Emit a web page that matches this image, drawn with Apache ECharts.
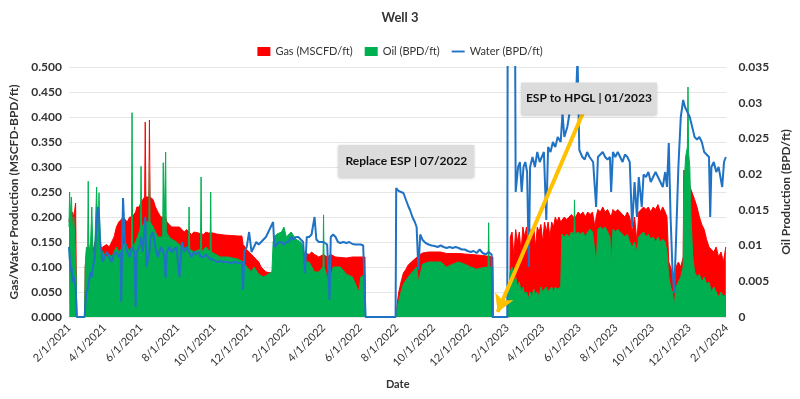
<!DOCTYPE html>
<html>
<head>
<meta charset="utf-8">
<script src="https://cdn.jsdelivr.net/npm/echarts@6/dist/echarts.min.js"></script>
<style>
    html, body { margin: 0; padding: 0; background: #fff; }
    #main { width: 800px; height: 399px; }
</style>
</head>
<body>
<div id="main"></div>
<script>
// Gas (MSCFD/ft), left axis
const gasData = [
    ['2021-02-01',0.19],['2021-02-02',0.2],['2021-02-04',0.19],['2021-02-05',0.2],['2021-02-07',0.21],['2021-02-09',0.2],
    ['2021-02-12',0.228],['2021-02-13',0.1],['2021-02-14',0],['2021-02-27',0],['2021-02-28',0.1],['2021-03-02',0.13],
    ['2021-03-05',0.14],['2021-03-06',0.12],['2021-03-09',0.14],['2021-03-11',0.16],['2021-03-13',0.13],['2021-03-16',0.15],
    ['2021-03-19',0.15],['2021-03-23',0.14],['2021-03-25',0.13],['2021-03-29',0.14],['2021-04-01',0.14],['2021-04-05',0.145],
    ['2021-04-09',0.14],['2021-04-13',0.15],['2021-04-17',0.16],['2021-04-21',0.18],['2021-04-25',0.19],['2021-04-29',0.195],
    ['2021-05-02',0.2],['2021-05-05',0.2],['2021-05-09',0.19],['2021-05-13',0.2],['2021-05-17',0.2],['2021-05-23',0.21],
    ['2021-05-25',0.22],['2021-05-29',0.22],['2021-06-01',0.23],['2021-06-04',0.235],['2021-06-07',0.24],['2021-06-08',0.39],
    ['2021-06-09',0.24],['2021-06-14',0.24],['2021-06-15',0.394],['2021-06-16',0.24],['2021-06-21',0.235],['2021-06-25',0.22],
    ['2021-06-29',0.21],['2021-07-04',0.2],['2021-07-08',0.2],['2021-07-12',0.2],['2021-07-14',0.19],['2021-07-18',0.185],
    ['2021-07-22',0.18],['2021-07-30',0.18],['2021-08-04',0.18],['2021-08-08',0.175],['2021-08-12',0.17],['2021-08-16',0.175],
    ['2021-08-20',0.17],['2021-08-24',0.165],['2021-08-28',0.17],['2021-09-05',0.168],['2021-09-13',0.165],['2021-09-17',0.17],
    ['2021-09-21',0.168],['2021-09-29',0.168],['2021-10-05',0.166],['2021-10-17',0.164],['2021-10-29',0.163],['2021-11-10',0.162],
    ['2021-11-16',0.162],['2021-11-18',0.145],['2021-11-24',0.135],['2021-11-28',0.13],['2021-12-02',0.125],['2021-12-06',0.12],
    ['2021-12-10',0.115],['2021-12-14',0.11],['2021-12-18',0.1],['2021-12-22',0.095],['2021-12-26',0.09],['2022-01-05',0.088],
    ['2022-01-07',0.1],['2022-01-09',0.12],['2022-01-13',0.13],['2022-02-22',0.13],['2022-03-01',0.128],['2022-03-08',0.125],
    ['2022-03-12',0.13],['2022-03-17',0.125],['2022-03-24',0.12],['2022-04-01',0.125],['2022-04-07',0.12],['2022-04-13',0.125],
    ['2022-04-21',0.12],['2022-05-09',0.118],['2022-05-19',0.12],['2022-06-09',0.12],['2022-06-10',0],['2022-07-30',0],
    ['2022-07-31',0.01],['2022-08-04',0.048],['2022-08-08',0.07],['2022-08-12',0.088],['2022-08-16',0.095],['2022-08-20',0.104],
    ['2022-08-23',0.108],['2022-08-27',0.112],['2022-08-31',0.116],['2022-09-03',0.118],['2022-09-09',0.125],['2022-09-13',0.128],
    ['2022-09-23',0.13],['2022-10-13',0.13],['2022-10-23',0.127],['2022-11-12',0.127],['2022-11-22',0.126],['2022-12-02',0.125],
    ['2022-12-22',0.123],['2023-01-08',0.12],['2023-01-09',0],['2023-02-05',0],['2023-02-06',0.16],['2023-02-09',0.17],
    ['2023-02-12',0.12],['2023-02-15',0.175],['2023-02-18',0.15],['2023-02-21',0.17],['2023-02-24',0.13],['2023-02-27',0.18],
    ['2023-03-02',0.16],['2023-03-05',0.18],['2023-03-08',0.12],['2023-03-11',0.175],['2023-03-14',0.15],['2023-03-17',0.18],
    ['2023-03-20',0.14],['2023-03-23',0.18],['2023-03-26',0.17],['2023-03-29',0.185],['2023-04-01',0.15],['2023-04-04',0.19],
    ['2023-04-07',0.17],['2023-04-10',0.19],['2023-04-13',0.16],['2023-04-16',0.19],['2023-04-19',0.18],['2023-04-22',0.2],
    ['2023-04-25',0.19],['2023-04-28',0.2],['2023-05-01',0.19],['2023-05-07',0.2],['2023-05-11',0.195],['2023-05-15',0.2],
    ['2023-05-19',0.205],['2023-05-22',0.2],['2023-05-26',0.2],['2023-05-30',0.21],['2023-06-03',0.205],['2023-06-07',0.21],
    ['2023-06-11',0.2],['2023-06-15',0.21],['2023-06-19',0.205],['2023-06-23',0.21],['2023-06-27',0.18],['2023-06-29',0.2],
    ['2023-07-02',0.215],['2023-07-06',0.21],['2023-07-10',0.22],['2023-07-14',0.21],['2023-07-18',0.215],['2023-07-22',0.205],
    ['2023-07-24',0.2],['2023-07-27',0.215],['2023-07-31',0.21],['2023-08-04',0.215],['2023-08-08',0.21],['2023-08-12',0.205],
    ['2023-08-16',0.2],['2023-08-20',0.21],['2023-08-24',0.2],['2023-08-28',0.17],['2023-09-01',0.2],['2023-09-05',0.15],
    ['2023-09-08',0.21],['2023-09-12',0.215],['2023-09-16',0.22],['2023-09-20',0.215],['2023-09-24',0.22],['2023-09-28',0.21],
    ['2023-10-02',0.22],['2023-10-06',0.215],['2023-10-10',0.225],['2023-10-14',0.21],['2023-10-18',0.22],['2023-10-22',0.21],
    ['2023-10-25',0.2],['2023-10-28',0.11],['2023-10-31',0.1],['2023-11-03',0.09],['2023-11-06',0.08],['2023-11-09',0.1],
    ['2023-11-13',0.11],['2023-11-17',0.1],['2023-11-21',0.12],['2023-11-22',0.294],['2023-11-25',0.285],['2023-11-29',0.27],
    ['2023-12-01',0.265],['2023-12-04',0.255],['2023-12-07',0.245],['2023-12-10',0.235],['2023-12-14',0.22],['2023-12-18',0.2],
    ['2023-12-22',0.185],['2023-12-26',0.175],['2023-12-30',0.155],['2024-01-03',0.14],['2024-01-07',0.135],['2024-01-11',0.13],
    ['2024-01-15',0.14],['2024-01-19',0.12],['2024-01-23',0.13],['2024-01-27',0.11],['2024-01-31',0.14]
]

// Oil (BPD/ft), right axis
const oilData = [
    ['2021-02-01',0.0126],['2021-02-02',0.0175],['2021-02-04',0.0133],['2021-02-05',0.0168],['2021-02-07',0.0119],['2021-02-09',0.014],
    ['2021-02-12',0.0084],['2021-02-13',0.0056],['2021-02-14',0],['2021-02-27',0],['2021-02-28',0.007],['2021-03-02',0.0098],
    ['2021-03-04',0.0091],['2021-03-05',0.019],['2021-03-06',0.0091],['2021-03-09',0.0105],['2021-03-11',0.0154],['2021-03-13',0.0084],
    ['2021-03-16',0.0098],['2021-03-19',0.0182],['2021-03-21',0.0112],['2021-03-23',0.0174],['2021-03-25',0.0098],['2021-03-29',0.0091],
    ['2021-04-05',0.0084],['2021-04-09',0.0088],['2021-04-13',0.0084],['2021-04-17',0.0091],['2021-04-21',0.0098],['2021-04-25',0.0091],
    ['2021-04-29',0.0095],['2021-05-05',0.0105],['2021-05-09',0.0098],['2021-05-13',0.0091],['2021-05-16',0.0098],['2021-05-17',0.0286],
    ['2021-05-18',0.0098],['2021-05-23',0.0105],['2021-05-29',0.0119],['2021-05-31',0.0126],['2021-06-01',0.0211],['2021-06-02',0.0126],
    ['2021-06-08',0.0133],['2021-06-14',0.0133],['2021-06-15',0.022],['2021-06-16',0.0133],['2021-06-21',0.0126],['2021-06-25',0.0119],
    ['2021-06-29',0.0112],['2021-07-07',0.0112],['2021-07-08',0.0216],['2021-07-09',0.0112],['2021-07-11',0.0112],['2021-07-12',0.0231],
    ['2021-07-13',0.0119],['2021-07-18',0.0112],['2021-07-22',0.0109],['2021-07-30',0.0105],['2021-08-08',0.0098],['2021-08-19',0.0095],
    ['2021-08-20',0.0154],['2021-08-21',0.0095],['2021-08-28',0.0091],['2021-09-08',0.0095],['2021-09-09',0.0196],['2021-09-10',0.0091],
    ['2021-09-17',0.0098],['2021-09-24',0.0091],['2021-09-25',0.0175],['2021-09-26',0.0091],['2021-10-11',0.0084],['2021-10-23',0.0084],
    ['2021-11-10',0.0081],['2021-11-18',0.0077],['2021-11-24',0.007],['2021-12-02',0.0063],['2021-12-06',0.007],['2021-12-14',0.006],
    ['2021-12-22',0.0056],['2022-01-05',0.0063],['2022-01-07',0.0105],['2022-01-09',0.0112],['2022-01-13',0.0116],['2022-01-21',0.0119],
    ['2022-01-25',0.0126],['2022-01-29',0.0112],['2022-02-06',0.0119],['2022-02-14',0.0109],['2022-02-22',0.0105],['2022-02-26',0.0098],
    ['2022-03-01',0.0077],['2022-03-08',0.0077],['2022-03-17',0.0063],['2022-03-24',0.0063],['2022-03-31',0.007],['2022-04-01',0.0143],
    ['2022-04-02',0.007],['2022-04-07',0.0056],['2022-04-11',0.0049],['2022-04-17',0.007],['2022-04-29',0.007],['2022-05-09',0.006],
    ['2022-05-19',0.0056],['2022-05-30',0.0035],['2022-06-02',0.0056],['2022-06-09',0.006],['2022-06-10',0],['2022-07-30',0],
    ['2022-07-31',0.0007],['2022-08-04',0.0021],['2022-08-08',0.0035],['2022-08-12',0.0046],['2022-08-20',0.0056],['2022-08-27',0.0063],
    ['2022-09-03',0.007],['2022-09-06',0.0049],['2022-09-13',0.0074],['2022-09-23',0.0077],['2022-10-13',0.0077],['2022-10-23',0.007],
    ['2022-11-02',0.0074],['2022-11-12',0.0077],['2022-11-22',0.0074],['2022-12-02',0.007],['2022-12-12',0.0067],['2022-12-22',0.0069],
    ['2022-12-31',0.007],['2023-01-01',0.0132],['2023-01-02',0.007],['2023-01-08',0.007],['2023-01-09',0],['2023-02-01',0],
    ['2023-02-03',0.0035],['2023-02-06',0.0063],['2023-02-09',0.007],['2023-02-12',0.0049],['2023-02-15',0.0056],['2023-02-18',0.0042],
    ['2023-02-21',0.0049],['2023-02-24',0.0035],['2023-02-27',0.0042],['2023-03-02',0.0032],['2023-03-05',0.0035],['2023-03-08',0.0025],
    ['2023-03-11',0.0035],['2023-03-14',0.0028],['2023-03-17',0.0039],['2023-03-20',0.0032],['2023-03-23',0.0035],['2023-03-26',0.0028],
    ['2023-03-29',0.0042],['2023-04-01',0.0035],['2023-04-04',0.0039],['2023-04-07',0.0042],['2023-04-10',0.0035],['2023-04-13',0.0039],
    ['2023-04-16',0.0042],['2023-04-19',0.0035],['2023-04-22',0.0042],['2023-04-25',0.0039],['2023-05-01',0.0042],['2023-05-03',0.0116],
    ['2023-05-07',0.0112],['2023-05-11',0.0116],['2023-05-15',0.0112],['2023-05-19',0.0119],['2023-05-23',0.0116],['2023-05-24',0.0164],
    ['2023-05-25',0.0116],['2023-05-30',0.0119],['2023-06-03',0.0116],['2023-06-07',0.0119],['2023-06-11',0.0112],['2023-06-15',0.0119],
    ['2023-06-19',0.0123],['2023-06-23',0.0119],['2023-06-27',0.0091],['2023-06-29',0.007],['2023-07-02',0.0123],['2023-07-06',0.0126],
    ['2023-07-10',0.0123],['2023-07-14',0.0126],['2023-07-18',0.0119],['2023-07-22',0.0112],['2023-07-24',0.007],['2023-07-27',0.0123],
    ['2023-07-31',0.0119],['2023-08-04',0.0123],['2023-08-08',0.0119],['2023-08-12',0.0116],['2023-08-16',0.0112],['2023-08-20',0.0116],
    ['2023-08-24',0.0105],['2023-08-28',0.0098],['2023-09-01',0.0105],['2023-09-05',0.0091],['2023-09-08',0.0112],['2023-09-12',0.0116],
    ['2023-09-16',0.0119],['2023-09-20',0.0112],['2023-09-24',0.0116],['2023-09-28',0.0109],['2023-10-02',0.0112],['2023-10-06',0.0105],
    ['2023-10-10',0.0112],['2023-10-14',0.0105],['2023-10-18',0.0109],['2023-10-22',0.0105],['2023-10-25',0.0091],['2023-10-28',0.0056],
    ['2023-10-31',0.0042],['2023-11-03',0.0035],['2023-11-06',0.0014],['2023-11-09',0.0042],['2023-11-13',0.0049],['2023-11-17',0.0056],
    ['2023-11-21',0.007],['2023-11-22',0.0175],['2023-11-25',0.0224],['2023-11-28',0.0238],['2023-11-29',0.0322],['2023-11-30',0.0231],
    ['2023-12-02',0.021],['2023-12-04',0.014],['2023-12-07',0.0084],['2023-12-10',0.0063],['2023-12-14',0.0056],['2023-12-18',0.006],
    ['2023-12-22',0.0049],['2023-12-26',0.0056],['2023-12-30',0.0046],['2024-01-03',0.0049],['2024-01-07',0.0035],['2024-01-11',0.0042],
    ['2024-01-15',0.0035],['2024-01-19',0.0028],['2024-01-23',0.0035],['2024-01-27',0.0028],['2024-01-31',0.0032]
]

// Water (BPD/ft), left axis
const waterData = [
    ['2021-02-01',0.14],['2021-02-02',0.12],['2021-02-04',0.09],['2021-02-05',0.1],['2021-02-07',0.07],['2021-02-09',0.08],
    ['2021-02-12',0.06],['2021-02-13',0.03],['2021-02-14',0],['2021-02-27',0],['2021-02-28',0.02],['2021-03-02',0.05],
    ['2021-03-05',0.06],['2021-03-06',0.07],['2021-03-09',0.09],['2021-03-11',0.08],['2021-03-13',0.1],['2021-03-16',0.12],
    ['2021-03-19',0.19],['2021-03-21',0.22],['2021-03-23',0.2],['2021-03-25',0.15],['2021-03-29',0.11],['2021-04-01',0.12],
    ['2021-04-05',0.13],['2021-04-09',0.12],['2021-04-13',0.11],['2021-04-17',0.125],['2021-04-21',0.13],['2021-04-25',0.12],
    ['2021-04-28',0.13],['2021-04-29',0.03],['2021-05-02',0.238],['2021-05-05',0.15],['2021-05-09',0.13],['2021-05-13',0.12],
    ['2021-05-17',0.14],['2021-05-21',0.13],['2021-05-23',0.02],['2021-05-25',0.13],['2021-05-29',0.14],['2021-06-01',0.16],
    ['2021-06-04',0.13],['2021-06-08',0.2],['2021-06-10',0.1],['2021-06-15',0.13],['2021-06-17',0.16],['2021-06-21',0.17],
    ['2021-06-25',0.14],['2021-06-29',0.12],['2021-07-04',0.14],['2021-07-08',0.13],['2021-07-10',0.12],['2021-07-12',0.078],
    ['2021-07-14',0.13],['2021-07-18',0.14],['2021-07-22',0.13],['2021-07-30',0.14],['2021-08-04',0.08],['2021-08-08',0.15],
    ['2021-08-12',0.13],['2021-08-16',0.14],['2021-08-20',0.13],['2021-08-24',0.12],['2021-08-28',0.13],['2021-09-01',0.125],
    ['2021-09-05',0.13],['2021-09-09',0.12],['2021-09-13',0.12],['2021-09-17',0.125],['2021-09-21',0.12],['2021-09-25',0.115],
    ['2021-09-29',0.115],['2021-10-05',0.11],['2021-10-11',0.112],['2021-10-17',0.11],['2021-10-23',0.11],['2021-10-29',0.108],
    ['2021-11-04',0.11],['2021-11-10',0.108],['2021-11-16',0.11],['2021-11-18',0.054],['2021-11-20',0.13],['2021-11-24',0.14],
    ['2021-11-28',0.17],['2021-12-02',0.13],['2021-12-06',0.14],['2021-12-10',0.15],['2021-12-14',0.145],['2021-12-18',0.15],
    ['2021-12-22',0.155],['2021-12-26',0.16],['2021-12-30',0.17],['2022-01-07',0.19],['2022-01-09',0.14],['2022-01-13',0.145],
    ['2022-01-17',0.15],['2022-01-21',0.15],['2022-01-25',0.145],['2022-01-29',0.15],['2022-02-02',0.15],['2022-02-06',0.16],
    ['2022-02-10',0.155],['2022-02-14',0.16],['2022-02-18',0.16],['2022-02-22',0.155],['2022-02-26',0.15],['2022-03-01',0.088],
    ['2022-03-04',0.16],['2022-03-08',0.16],['2022-03-12',0.165],['2022-03-17',0.2],['2022-03-20',0.155],['2022-03-24',0.15],
    ['2022-04-01',0.15],['2022-04-07',0.145],['2022-04-11',0.034],['2022-04-13',0.16],['2022-04-17',0.165],['2022-04-21',0.16],
    ['2022-04-25',0.15],['2022-04-29',0.148],['2022-05-04',0.15],['2022-05-09',0.148],['2022-05-14',0.15],['2022-05-19',0.146],
    ['2022-05-24',0.145],['2022-05-29',0.145],['2022-06-02',0.145],['2022-06-06',0.143],['2022-06-09',0.143],['2022-06-10',0],
    ['2022-07-30',0],['2022-07-31',0.258],['2022-08-04',0.252],['2022-08-08',0.25],['2022-08-12',0.248],['2022-08-16',0.235],
    ['2022-08-20',0.222],['2022-08-23',0.214],['2022-08-27',0.2],['2022-08-31',0.19],['2022-09-03',0.18],['2022-09-06',0.094],
    ['2022-09-09',0.165],['2022-09-13',0.154],['2022-09-18',0.148],['2022-09-23',0.145],['2022-09-28',0.143],['2022-10-03',0.142],
    ['2022-10-08',0.14],['2022-10-13',0.143],['2022-10-18',0.14],['2022-10-23',0.138],['2022-10-28',0.14],['2022-11-02',0.138],
    ['2022-11-07',0.14],['2022-11-12',0.138],['2022-11-17',0.135],['2022-11-22',0.135],['2022-11-27',0.132],['2022-12-02',0.13],
    ['2022-12-07',0.132],['2022-12-12',0.128],['2022-12-17',0.135],['2022-12-22',0.128],['2022-12-27',0.125],['2023-01-01',0.13],
    ['2023-01-06',0.125],['2023-01-07',0],['2023-02-01',0],['2023-02-02',0.9],['2023-02-13',0.9],['2023-02-15',0.25],
    ['2023-02-19',0.3],['2023-02-22',0.31],['2023-02-25',0.25],['2023-02-28',0.3],['2023-03-03',0.31],['2023-03-06',0.29],
    ['2023-03-09',0.1],['2023-03-11',0.3],['2023-03-15',0.32],['2023-03-19',0.3],['2023-03-23',0.33],['2023-03-27',0.31],
    ['2023-04-03',0.33],['2023-04-07',0.194],['2023-04-10',0.34],['2023-04-14',0.33],['2023-04-18',0.35],['2023-04-22',0.34],
    ['2023-04-26',0.36],['2023-05-01',0.35],['2023-05-04',0.408],['2023-05-07',0.36],['2023-05-12',0.38],['2023-05-16',0.41],
    ['2023-05-22',0.43],['2023-05-26',0.42],['2023-05-29',0.52],['2023-06-01',0.334],['2023-06-06',0.32],['2023-06-10',0.315],
    ['2023-06-14',0.33],['2023-06-18',0.32],['2023-06-24',0.31],['2023-06-29',0.22],['2023-07-02',0.32],['2023-07-06',0.325],
    ['2023-07-10',0.33],['2023-07-14',0.32],['2023-07-18',0.315],['2023-07-22',0.32],['2023-07-24',0.25],['2023-07-27',0.33],
    ['2023-07-31',0.32],['2023-08-04',0.33],['2023-08-08',0.32],['2023-08-12',0.31],['2023-08-16',0.325],['2023-08-20',0.32],
    ['2023-08-24',0.31],['2023-08-28',0.18],['2023-09-01',0.27],['2023-09-05',0.2],['2023-09-08',0.28],['2023-09-13',0.22],
    ['2023-09-16',0.285],['2023-09-20',0.28],['2023-09-24',0.29],['2023-09-28',0.27],['2023-10-02',0.28],['2023-10-06',0.29],
    ['2023-10-10',0.28],['2023-10-14',0.27],['2023-10-18',0.26],['2023-10-22',0.29],['2023-10-25',0.26],['2023-10-28',0.348],
    ['2023-10-31',0.2],['2023-11-03',0.1],['2023-11-06',0.048],['2023-11-09',0.15],['2023-11-13',0.3],['2023-11-17',0.4],
    ['2023-11-21',0.434],['2023-11-24',0.42],['2023-11-28',0.41],['2023-12-02',0.4],['2023-12-06',0.38],['2023-12-10',0.36],
    ['2023-12-14',0.355],['2023-12-18',0.36],['2023-12-22',0.35],['2023-12-26',0.33],['2023-12-30',0.325],['2024-01-03',0.32],
    ['2024-01-05',0.2],['2024-01-07',0.3],['2024-01-11',0.31],['2024-01-15',0.29],['2024-01-19',0.3],['2024-01-22',0.28],
    ['2024-01-25',0.26],['2024-01-28',0.31],['2024-01-31',0.32]
]

const tickDates = [
    '2021-02-01', '2021-04-01', '2021-06-01', '2021-08-01', '2021-10-01', '2021-12-01',
    '2022-02-01', '2022-04-01', '2022-06-01', '2022-08-01', '2022-10-01', '2022-12-01',
    '2023-02-01', '2023-04-01', '2023-06-01', '2023-08-01', '2023-10-01', '2023-12-01',
    '2024-02-01',
]

// callout boxes (date, left-axis value of box centre)
const notes = [
    { text: 'Replace ESP | 07/2022', at: ['2022-08-17', 0.312] },
    { text: 'ESP to HPGL | 01/2023', at: ['2023-06-17', 0.437] },
]
const arrowFrom = ['2023-06-07', 0.408]
const arrowTo = ['2023-01-16', 0.01]

const font = 'Lato, "Open Sans", sans-serif'
const ink = '#333'
const parse = (d) => +echarts.number.parseDate(d)
const toPoints = (rows) => rows.map(([d, v]) => [parse(d), v])

const chart = echarts.init(document.getElementById('main'))

const option = {
    animation: false,
    textStyle: { fontFamily: font },
    title: {
        text: 'Well 3',
        left: 'center',
        top: 6,
        textStyle: { fontSize: 13, fontWeight: 'bold', color: ink, fontFamily: font },
    },
    legend: {
        top: 41,
        left: 'center',
        itemWidth: 13,
        itemHeight: 9,
        itemGap: 12,
        symbolKeepAspect: true,
        textStyle: { fontSize: 11, color: ink, fontFamily: font },
        data: [
            { name: 'Gas (MSCFD/ft)', icon: 'rect' },
            { name: 'Oil (BPD/ft)', icon: 'rect' },
            { name: 'Water (BPD/ft)', icon: 'path://M0,0 L14,0 L14,2 L0,2 Z' },
        ],
    },
    grid: { left: 69, right: 67, top: 67, bottom: 82 },
    xAxis: {
        type: 'value',
        min: parse(tickDates[0]),
        max: parse(tickDates[tickDates.length - 1]),
        name: 'Date',
        nameLocation: 'middle',
        nameGap: 62,
        nameTextStyle: { fontSize: 11, fontWeight: 'bold', color: ink, fontFamily: font },
        axisLine: { show: false },
        axisTick: { show: false },
        splitLine: { show: false },
        axisLabel: {
            customValues: tickDates.map(parse),
            rotate: 45,
            fontSize: 11,
            color: ink,
            margin: 9,
            formatter: (v) => {
                const d = new Date(v)
                return `${d.getMonth() + 1}/${d.getDate()}/${d.getFullYear()}`
            },
        },
    },
    yAxis: [
        {
            type: 'value',
            min: 0,
            max: 0.5,
            interval: 0.05,
            name: 'Gas/Water Production (MSCFD-BPD/ft)',
            nameLocation: 'middle',
            nameRotate: 90,
            nameGap: 43,
            nameTextStyle: { fontSize: 12, fontWeight: 'bold', color: ink, fontFamily: font },
            axisLine: { show: false },
            axisTick: { show: false },
            splitLine: { lineStyle: { color: '#e6e6e6' } },
            axisLabel: {
                fontSize: 12,
                fontWeight: 'bold',
                color: ink,
                margin: 7,
                formatter: (v) => v.toFixed(3),
            },
        },
        {
            type: 'value',
            position: 'right',
            min: 0,
            max: 0.035,
            interval: 0.005,
            name: 'Oil Production (BPD/ft)',
            nameLocation: 'middle',
            nameRotate: 90,
            nameGap: 46,
            nameTextStyle: { fontSize: 12, fontWeight: 'bold', color: ink, fontFamily: font },
            axisLine: { show: false },
            axisTick: { show: false },
            splitLine: { show: false },
            axisLabel: { fontSize: 12, fontWeight: 'bold', color: ink, margin: 12 },
        },
    ],
    series: [
        {
            name: 'Gas (MSCFD/ft)',
            type: 'line',
            yAxisIndex: 0,
            data: toPoints(gasData),
            symbol: 'none',
            itemStyle: { color: '#ff0000' },
            lineStyle: { width: 1, color: '#ff0000' },
            areaStyle: { color: '#ff0000', opacity: 1 },
            z: 1,
        },
        {
            name: 'Oil (BPD/ft)',
            type: 'line',
            yAxisIndex: 1,
            data: toPoints(oilData),
            symbol: 'none',
            itemStyle: { color: '#00b050' },
            lineStyle: { width: 1, color: '#00b050' },
            areaStyle: { color: '#00b050', opacity: 1 },
            z: 2,
        },
        {
            name: 'Water (BPD/ft)',
            type: 'line',
            yAxisIndex: 0,
            data: toPoints(waterData),
            symbol: 'none',
            itemStyle: { color: '#1f72c4' },
            lineStyle: { width: 2, color: '#1f72c4' },
            z: 3,
            markLine: {
                silent: true,
                symbol: ['none', 'arrow'],
                symbolSize: [15, 17],
                label: { show: false },
                lineStyle: { color: '#ffc000', width: 4, type: 'solid' },
                data: [[
                    { coord: [parse(arrowFrom[0]), arrowFrom[1]] },
                    { coord: [parse(arrowTo[0]), arrowTo[1]] },
                ]],
            },
            markPoint: {
                silent: true,
                data: notes.map((n) => ({
                    coord: [parse(n.at[0]), n.at[1]],
                    symbol: 'rect',
                    symbolSize: [136, 32],
                    itemStyle: {
                        color: '#dcdcdc',
                        shadowBlur: 3,
                        shadowColor: 'rgba(0,0,0,0.25)',
                        shadowOffsetY: 1,
                    },
                    label: {
                        show: true,
                        position: 'inside',
                        formatter: n.text,
                        color: '#111',
                        fontSize: 12,
                        fontWeight: 'bold',
                        fontFamily: font,
                    },
                })),
            },
        },
    ],
}

chart.setOption(option)
</script>
</body>
</html>
